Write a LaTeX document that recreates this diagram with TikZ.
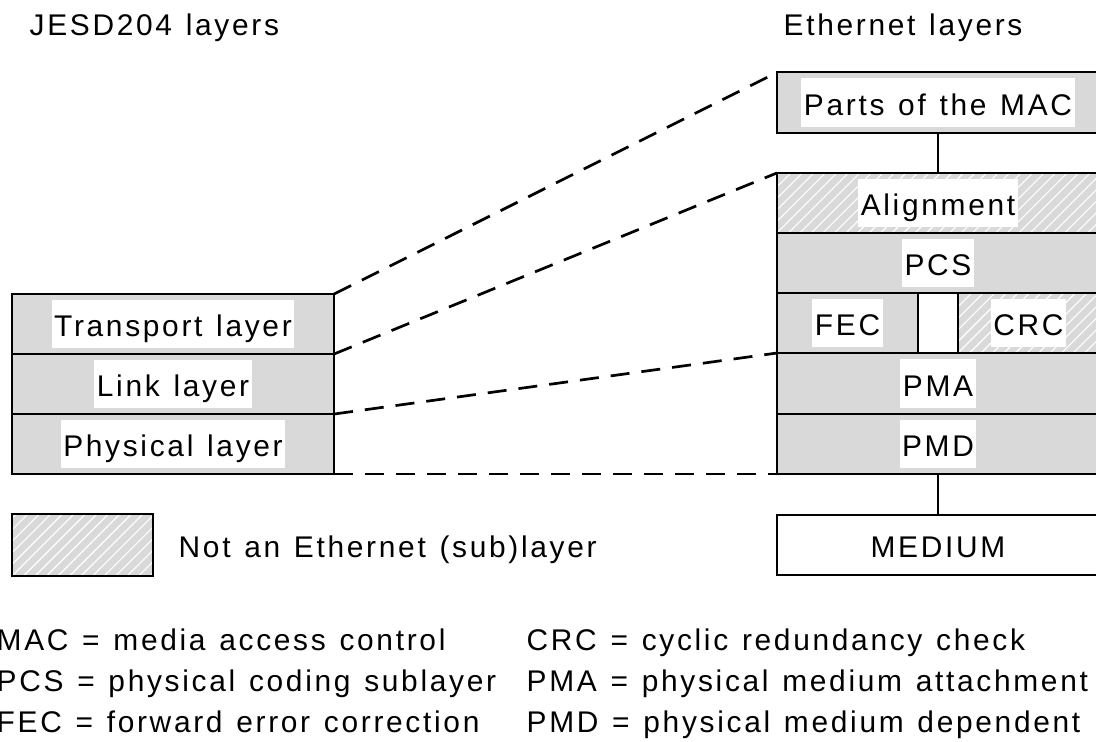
\documentclass[tikz,border=0pt]{standalone}
\usepackage{fontspec}
\setmainfont{Liberation Sans}[LetterSpace=9, WordSpace=1.25]
\usetikzlibrary{calc}
\definecolor{laygray}{RGB}{217,217,217}
\begin{document}
\begin{tikzpicture}[x=0.01cm, y=-0.01cm,
  every node/.style={font=\fontsize{8.5}{10}\selectfont},
  lay/.style={draw=black, line width=0.02cm, fill=laygray, minimum height=0.6cm, minimum width=3.22cm, inner sep=0, outer sep=0},
  plainbox/.style={lay, fill=white},
  hatch/.style={path picture={
    \foreach \i in {-8,...,30}{
      \draw[white, line width=0.011cm]
        ([xshift=\i*0.115cm]path picture bounding box.south west) -- ++(45:1.2cm);
    }}},
  lbl/.style={fill=white, inner xsep=0.025cm, inner ysep=0.02cm, text height=1.0em, text depth=0.27em},
  txt/.style={inner sep=0, text height=1.0em, text depth=0.27em, anchor=west},
  link/.style={draw=black, line width=0.02cm},
  dashlink/.style={draw=black, line width=0.027cm, dash pattern=on 0.19cm off 0.12cm}
]
\useasboundingbox (0,0) rectangle (1096,742);

% titles
\node[txt] (tj) at (29,22.5) {JESD204 layers};
\node[txt] (te) at (783,22.5) {Ethernet layers};

% left stack
\node[lay] (tl) at (173,324) {};
\node[lay] (ll) at (173,384) {};
\node[lay] (pl) at (173,444) {};
\node[lbl] at (tl) {Transport layer};
\node[lbl] at (ll) {Link layer};
\node[lbl] at (pl) {Physical layer};

% right stack
\node[lay] (mac) at (938,102.5) {};
\node[lay, hatch] (align) at (938,203) {};
\node[lay] (pcs) at (938,263) {};
\node[lay, minimum width=1.41cm] (fec) at (847.5,323) {};
\node[plainbox, minimum width=0.40cm] (gap) at (938,323) {};
\node[lay, hatch, minimum width=1.41cm] (crc) at (1028.5,323) {};
\node[lay] (pma) at (938,383.5) {};
\node[lay] (pmd) at (938,444) {};
\node[plainbox] (medium) at (938,545) {};

\node[lbl] at (mac) {Parts of the MAC};
\node[lbl] at (align) {Alignment};
\node[lbl] at (pcs) {PCS};
\node[lbl] at (fec) {FEC};
\node[lbl] at (crc) {CRC};
\node[lbl] at (pma) {PMA};
\node[lbl] at (pmd) {PMD};
\node[lbl, fill=none] at (medium) {MEDIUM};

% vertical connectors
\draw[link] (mac.south) -- (align.north);
\draw[link] (pmd.south) -- (medium.north);

% dashed connectors
\draw[dashlink] (tl.north east) -- (mac.north west);
\draw[dashlink] (tl.south east) -- (align.north west);
\draw[dashlink] (ll.south east) -- (fec.south west);
\draw[dashlink] (pl.south east) -- (pmd.south west);

% legend
\node[lay, hatch, minimum width=1.41cm, minimum height=0.62cm] (leg) at (82.5,545) {};
\node[txt] (legt) at (178,545) {Not an Ethernet (sub)layer};

% abbreviations
\node[txt] (a1) at (-4,637.5) {MAC = media access control};
\node[txt] (a2) at (-4,678.5) {PCS = physical coding sublayer};
\node[txt] (a3) at (-4,719.5) {FEC = forward error correction};
\node[txt] (b1) at (526,637.5) {CRC = cyclic redundancy check};
\node[txt] (b2) at (526,678.5) {PMA = physical medium attachment};
\node[txt] (b3) at (526,719.5) {PMD = physical medium dependent};
\end{tikzpicture}
\end{document}
